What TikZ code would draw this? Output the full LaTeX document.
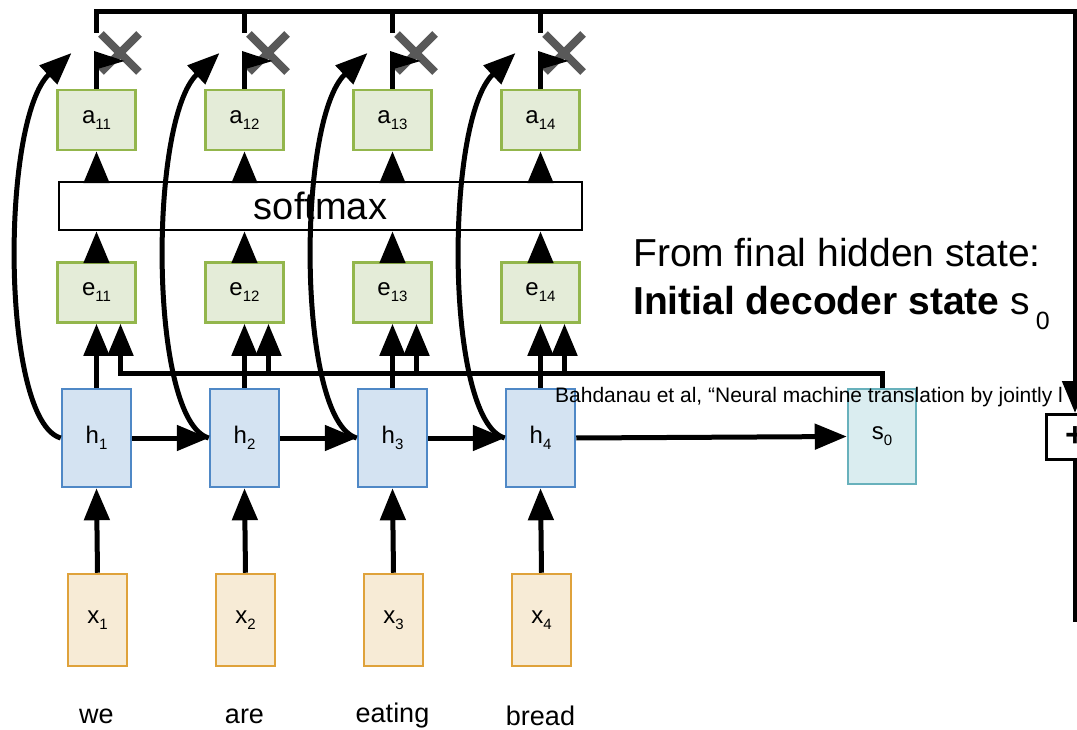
\documentclass[tikz,border=0pt]{standalone}
\usepackage{fontspec}
\setmainfont{Liberation Sans}
\usetikzlibrary{arrows.meta}
\definecolor{gfill}{HTML}{E4ECD8}
\definecolor{gdraw}{HTML}{93B64C}
\definecolor{bfill}{HTML}{D4E3F2}
\definecolor{bdraw}{HTML}{4F88C6}
\definecolor{ofill}{HTML}{F7EBD6}
\definecolor{odraw}{HTML}{DFA23B}
\definecolor{tfill}{HTML}{DAEDF0}
\definecolor{tdraw}{HTML}{68B1BC}
\definecolor{xgray}{HTML}{595959}
\newcommand\lab[2]{#1\raisebox{-6pt}{\fontsize{15}{15}\selectfont #2}}
\begin{document}
\begin{tikzpicture}[x=1pt,y=-1pt,
  box/.style={draw, line width=2.5pt, inner sep=0pt, font=\fontsize{24}{24}\selectfont},
  abox/.style={box, fill=gfill, draw=gdraw, minimum width=78pt, minimum height=60pt},
  hbox/.style={box, fill=bfill, draw=bdraw, minimum width=69pt, minimum height=98pt},
  xbox/.style={box, fill=ofill, draw=odraw, minimum width=59pt, minimum height=92pt},
  sbox/.style={box, fill=tfill, draw=tdraw, minimum width=68pt, minimum height=95pt},
  conn/.style={line width=5pt},
  arr/.style={conn, -{Triangle[length=32pt,width=25pt]}},
  xmark/.style={draw=xgray, line width=8pt},
  word/.style={font=\fontsize{27}{27}\selectfont, inner sep=0pt}]
\useasboundingbox (0,0) rectangle (1077,730);

% nodes
\node[draw, line width=2.5pt, minimum width=523pt, minimum height=48pt, inner sep=0pt,
      font=\fontsize{38}{38}\selectfont] (sm) at (320.5,206) {softmax};
\foreach \i/\c/\w in {1/96.5/we, 2/244.5/are, 3/392.5/eating, 4/540.5/bread}{
  \node[abox] (a\i) at (\c,120) {\lab{a}{1\i}};
  \node[abox] (e\i) at (\c,292.5) {\lab{e}{1\i}};
  \node[hbox] (h\i) at (\c,438) {\lab{h}{\i}};
  \node[xbox] (x\i) at (\c+1,620) {\lab{x}{\i}};
  \node[word] (w\i) at (\c,716) {\w};
  \coordinate (k\i) at (\c-25,53);
  \coordinate (u\i) at (\c+24,373);
  \coordinate (s\i) at (\c,33);
  \coordinate (f\i) at (\c,62);
}
\node[sbox] (s0) at (882,436.5) {\lab{s}{0}};
\node[draw, line width=3pt, fill=white, minimum width=58pt, minimum height=45pt, inner sep=0pt,
      font=\fontsize{34}{34}\selectfont\bfseries] (plus) at (1075,437) {+};
\coordinate (tr) at (1075,12);
\coordinate (bot) at (1075,622);

% gray multiplication marks
\foreach \c in {96.5,244.5,392.5,540.5}{
  \draw[xmark] (\c+4.5,34) -- (\c+42.5,72) (\c+42.5,34) -- (\c+4.5,72);
  \fill (\c-2.5,51) -- (\c-2.5,70) -- (\c+28,61) -- cycle;
}

% connectors
\foreach \i in {1,2,3,4}{
  \draw[arr] (x\i.north) -- (h\i.south);
  \draw[arr] (h\i.north) -- (e\i.south);
  \draw[arr] (e\i.north) -- (e\i.north |- sm.south);
  \draw[arr] (a\i.south |- sm.north) -- (a\i.south);
  \draw[conn] (a\i.north) -- (f\i);
  \draw[arr] (h\i.west) .. controls +(-60,-17) and +(-71,67) .. (k\i);
}
\draw[arr] (h1.east) -- (h2.west);
\draw[arr] (h2.east) -- (h3.west);
\draw[arr] (h3.east) -- (h4.west);
\draw[arr] (h4.east) -- (s0.west);

\draw[arr] (s0.north) |- (u1) -- (u1 |- e1.south);
\foreach \i in {2,3,4}{
  \draw[arr] (u\i) -- (u\i |- e\i.south);
}

\draw[arr] (s1) |- (tr) -- (plus.north);
\foreach \i in {2,3,4}{
  \draw[conn] (s\i) -- (s\i |- tr);
}
\draw[conn] (plus.south) -- (bot);

% texts
\node[anchor=base west, inner sep=0pt, font=\fontsize{39}{39}\selectfont] (t1) at (633,267) {From final hidden state:};
\node[anchor=base west, inner sep=0pt, font=\fontsize{39}{39}\selectfont] (t2) at (633,315)
  {\textbf{Initial decoder state} s\hspace{6pt}\raisebox{-15pt}{\fontsize{25}{25}\selectfont 0}};
\node[anchor=base west, inner sep=0pt, font=\fontsize{21}{21}\selectfont] (ref) at (555,402)
  {Bahdanau et al, “Neural machine translation by jointly l};
\end{tikzpicture}
\end{document}
